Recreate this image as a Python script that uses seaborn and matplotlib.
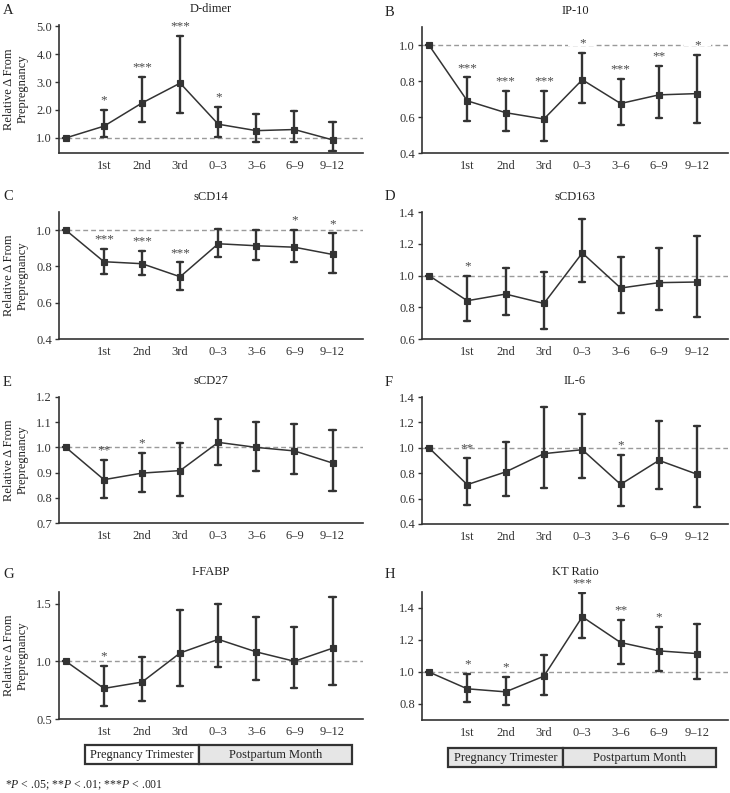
import numpy as np
import pandas as pd
import matplotlib
matplotlib.use("Agg")
import matplotlib.pyplot as plt
import matplotlib.transforms as mtransforms
from matplotlib.patches import Rectangle
import seaborn as sns

sns.set_style("ticks")
plt.rcParams['font.family'] = ['Liberation Serif', 'DejaVu Serif']
plt.rcParams['mathtext.fontset'] = 'custom'
plt.rcParams['mathtext.rm'] = 'Liberation Serif'
plt.rcParams['mathtext.it'] = 'Liberation Serif:italic'

# ---- data (relative change from prepregnancy, with error bar ends) ----
timepoints = ["Prepregnancy", "1st", "2nd", "3rd", "0–3", "3–6", "6–9", "9–12"]
tick_labels = ["", "1st", "2nd", "3rd", "0–3", "3–6", "6–9", "9–12"]

ddimer_mean = [1.0, 1.42, 2.25, 2.96, 1.49, 1.26, 1.30, 0.93]
ddimer_lo = [1.0, 1.02, 1.58, 1.88, 1.05, 0.85, 0.85, 0.52]
ddimer_hi = [1.0, 2.01, 3.19, 4.66, 2.12, 1.86, 1.97, 1.56]
ddimer_sig = ["", "*", "***", "***", "*", "", "", ""]

ip10_mean = [1.0, 0.69, 0.624, 0.589, 0.807, 0.675, 0.723, 0.73]
ip10_lo = [1.0, 0.58, 0.525, 0.468, 0.679, 0.558, 0.594, 0.567]
ip10_hi = [1.0, 0.82, 0.745, 0.743, 0.958, 0.813, 0.886, 0.945]
ip10_sig = ["", "***", "***", "***", "*", "***", "**", "*"]

scd14_mean = [1.0, 0.826, 0.815, 0.743, 0.925, 0.914, 0.906, 0.866]
scd14_lo = [1.0, 0.76, 0.752, 0.67, 0.853, 0.837, 0.824, 0.765]
scd14_hi = [1.0, 0.895, 0.884, 0.822, 1.004, 1.0, 1.0, 0.982]
scd14_sig = ["", "***", "***", "***", "", "", "*", "*"]

scd163_mean = [1.0, 0.841, 0.883, 0.824, 1.142, 0.921, 0.955, 0.959]
scd163_lo = [1.0, 0.711, 0.749, 0.665, 0.959, 0.763, 0.78, 0.738]
scd163_hi = [1.0, 0.995, 1.049, 1.024, 1.356, 1.118, 1.173, 1.249]
scd163_sig = ["", "*", "", "", "", "", "", ""]

scd27_mean = [1.0, 0.872, 0.898, 0.908, 1.02, 1.0, 0.986, 0.938]
scd27_lo = [1.0, 0.80, 0.822, 0.806, 0.931, 0.908, 0.894, 0.826]
scd27_hi = [1.0, 0.949, 0.978, 1.017, 1.113, 1.10, 1.094, 1.07]
scd27_sig = ["", "**", "*", "", "", "", "", ""]

il6_mean = [1.0, 0.71, 0.81, 0.954, 0.985, 0.712, 0.901, 0.791]
il6_lo = [1.0, 0.55, 0.623, 0.686, 0.762, 0.539, 0.676, 0.534]
il6_hi = [1.0, 0.92, 1.043, 1.32, 1.269, 0.943, 1.208, 1.169]
il6_sig = ["", "**", "", "", "", "*", "", ""]

ifabp_mean = [1.0, 0.765, 0.82, 1.072, 1.19, 1.081, 1.0, 1.113]
ifabp_lo = [1.0, 0.61, 0.654, 0.79, 0.948, 0.84, 0.765, 0.796]
ifabp_hi = [1.0, 0.963, 1.039, 1.445, 1.494, 1.387, 1.297, 1.558]
ifabp_sig = ["", "*", "", "", "", "", "", ""]

kt_mean = [1.0, 0.895, 0.876, 0.974, 1.345, 1.184, 1.132, 1.115]
kt_lo = [1.0, 0.811, 0.792, 0.857, 1.213, 1.052, 1.006, 0.958]
kt_hi = [1.0, 0.989, 0.968, 1.104, 1.492, 1.325, 1.28, 1.30]
kt_sig = ["", "*", "*", "", "***", "**", "*", ""]

period_labels = ["Pregnancy Trimester", "Postpartum Month"]
period_edges = [0.5, 3.5, 7.5]

ink = "#333333"

# letter, title, mean, lo, hi, sig, ylim, yticks, position (left px, top px, right px, bottom px)
panels = [
    ("A", "D-dimer", ddimer_mean, ddimer_lo, ddimer_hi, ddimer_sig, (0.46, 5.04), [1, 2, 3, 4, 5], (59, 25, 363, 153)),
    ("B", "IP-10", ip10_mean, ip10_lo, ip10_hi, ip10_sig, (0.4, 1.1), [0.4, 0.6, 0.8, 1.0], (422, 27, 728, 153)),
    ("C", "sCD14", scd14_mean, scd14_lo, scd14_hi, scd14_sig, (0.4, 1.1), [0.4, 0.6, 0.8, 1.0], (59, 212, 363, 339)),
    ("D", "sCD163", scd163_mean, scd163_lo, scd163_hi, scd163_sig, (0.6, 1.4), [0.6, 0.8, 1.0, 1.2, 1.4], (422, 212, 728, 339)),
    ("E", "sCD27", scd27_mean, scd27_lo, scd27_hi, scd27_sig, (0.7, 1.2), [0.7, 0.8, 0.9, 1.0, 1.1, 1.2], (59, 397, 363, 523)),
    ("F", "IL-6", il6_mean, il6_lo, il6_hi, il6_sig, (0.4, 1.4), [0.4, 0.6, 0.8, 1.0, 1.2, 1.4], (422, 397, 728, 524)),
    ("G", "I-FABP", ifabp_mean, ifabp_lo, ifabp_hi, ifabp_sig, (0.5, 1.6), [0.5, 1.0, 1.5], (59, 592, 363, 719)),
    ("H", "KT Ratio", kt_mean, kt_lo, kt_hi, kt_sig, (0.7, 1.5), [0.8, 1.0, 1.2, 1.4], (422, 592, 728, 720)),
]

W, H = 730, 793
fig = plt.figure(figsize=(W / 100, H / 100), dpi=100)

for letter, title, mean, lo, hi, sig, ylim, yticks, (l, t, r, b) in panels:
    ax = fig.add_axes([l / W, 1 - b / H, (r - l) / W, (b - t) / H])
    df = pd.DataFrame({"time": timepoints * 3, "value": list(lo) + list(mean) + list(hi)})

    ax.axhline(1.0, color="#9a9a9a", ls="--", lw=1.0, dashes=(3.5, 2.2), zorder=0.5)
    sns.pointplot(data=df, x="time", y="value", order=timepoints,
                  estimator=np.median, errorbar=lambda v: (v.min(), v.max()),
                  color=ink, markers="s", markersize=4.5, linewidth=1.1,
                  capsize=0.16, err_kws={"linewidth": 1.7}, ax=ax)

    ax.set_xlim(-0.18, 7.8)
    ax.set_ylim(*ylim)
    ax.set_yticks(yticks)
    ax.set_yticklabels(["%.1f" % v for v in yticks])
    ax.set_xticks(range(len(timepoints)))
    ax.set_xticklabels(tick_labels)
    ax.set_xlabel("")
    ax.set_ylabel("")
    ax.tick_params(axis="x", length=0, pad=5, labelsize=9, colors=ink)
    ax.tick_params(axis="y", length=3, width=1, pad=2, labelsize=9, colors=ink)
    sns.despine(ax=ax)
    for side in ["left", "bottom"]:
        ax.spines[side].set_color(ink)
        ax.spines[side].set_linewidth(1.2)

    bottom_row = letter in ("G", "H")
    ax.set_title(title, fontsize=9, pad=12 if bottom_row else 9, color="#222222")
    fig.text((l - (56 if l < 300 else 37)) / W, 1 - (t - (17 if bottom_row else 15)) / H, letter,
             fontsize=10.5, va="center", ha="left", color="#222222")

    for i, s in enumerate(sig):
        if not s:
            continue
        ax.annotate(s, xy=(i, hi[i]), xytext=(0, 2.5), textcoords="offset points",
                    ha="center", va="bottom", fontsize=9.5, color="#4a4a4a",
                    annotation_clip=False, zorder=1)

    if letter in ("A", "C", "E", "G"):
        ax.set_ylabel("Relative Δ From\nPrepregnancy", fontsize=9, linespacing=1.2, color="#222222")
        ax.yaxis.set_label_coords(-0.10, 0.5)

    if bottom_row:
        trans = mtransforms.blended_transform_factory(ax.transData, ax.transAxes)
        top_y = -0.205 if letter == "G" else -0.22
        for k, lab in enumerate(period_labels):
            fc = "white" if (letter == "G" and k == 0) else "#e6e6e6"
            x0, x1 = period_edges[k], period_edges[k + 1]
            rect = Rectangle((x0, top_y - 0.15), x1 - x0, 0.15, transform=trans,
                             facecolor=fc, edgecolor=ink, linewidth=1.6, clip_on=False)
            ax.add_patch(rect)
            ax.text((x0 + x1) / 2, top_y - 0.075, lab, transform=trans, ha="center",
                    va="center", fontsize=9, color="#222222")

    # break the reference line behind the IP-10 labels that sit on it
    if letter == "B":
        for i, s in enumerate(sig):
            if s and abs(hi[i] - 1.0) < 0.06:
                ax.fill_between([i - 0.36, i + 0.36], 0.995, 1.005, color="white", zorder=0.7, lw=0)

fig.text(5 / W, 1 - 785 / H, r"*$P$ < .05; **$P$ < .01; ***$P$ < .001",
         fontsize=8.5, va="center", ha="left", color="#222222")

fig.savefig("out.png", dpi=100)
